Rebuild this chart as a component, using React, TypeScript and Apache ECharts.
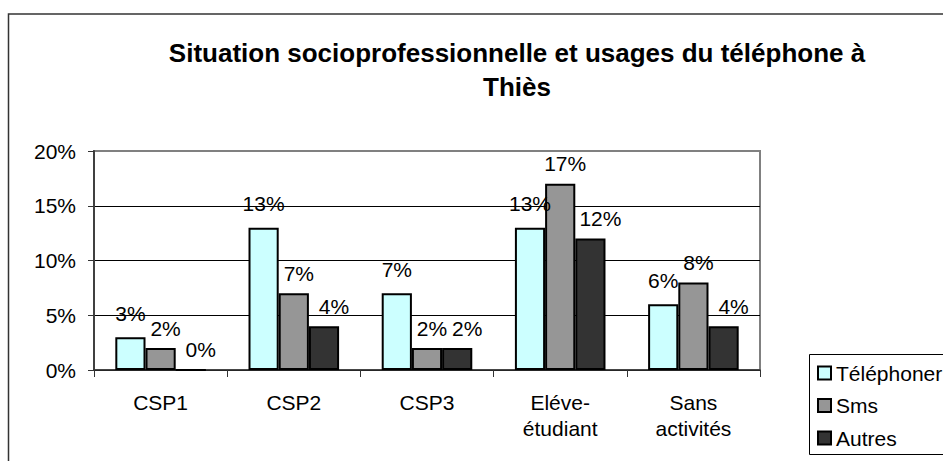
import React, { useEffect, useRef } from "react";
import * as echarts from "echarts";

const categories = ["CSP1", "CSP2", "CSP3", "Eléve-\nétudiant", "Sans\nactivités"];
const telephoner = [3, 13, 7, 13, 6];
const sms = [2, 7, 2, 17, 8];
const autres = [0, 4, 2, 12, 4];
const seriesNames = ["Téléphoner", "Sms", "Autres"];
const titleText = "Situation socioprofessionnelle et usages du téléphone à\nThiès";

const FONT = "'Liberation Sans', Arial, sans-serif";

export default function App() {
  const ref = useRef<HTMLDivElement>(null);
  useEffect(() => {
    if (!ref.current) return;
    const chart = echarts.init(ref.current, undefined, { renderer: "svg" });
    const barBase = (name: string, data: number[], color: string, offset: number[]) => ({
      name,
      type: "bar",
      data,
      barGap: "0%",
      barCategoryGap: "32%",
      itemStyle: { color, borderColor: "#000", borderWidth: 2 },
      label: {
        show: true,
        position: "top",
        distance: 5,
        offset,
        formatter: "{c}%",
        fontSize: 21,
        fontFamily: FONT,
        color: "#000",
      },
    });
    chart.setOption({
      animation: false,
      backgroundColor: "#fff",
      textStyle: { fontFamily: FONT },
      graphic: [
        {
          type: "rect",
          shape: { x: 8.5, y: 14, width: 1000, height: 1000 },
          style: { fill: "none", stroke: "#333", lineWidth: 1.5 },
          silent: true,
        },
        {
          type: "rect",
          shape: { x: 809.5, y: 354.5, width: 200, height: 100 },
          style: { fill: "none", stroke: "#000", lineWidth: 1 },
          silent: true,
        },
        {
          type: "text",
          x: 517,
          y: 36,
          style: {
            text: titleText,
            font: `bold 26px ${FONT}`,
            fill: "#000",
            textAlign: "center",
            textVerticalAlign: "top",
            lineHeight: 34,
          },
        },
      ],
      legend: {
        orient: "vertical",
        left: 809,
        top: 354,
        data: seriesNames,
        icon: "rect",
        itemWidth: 13,
        itemHeight: 13,
        itemGap: 11.5,
        padding: [8.5, 0, 6.5, 8],
        textStyle: { fontSize: 21, color: "#000", fontFamily: FONT, lineHeight: 21 },
      },
      grid: {
        left: 94,
        top: 151,
        right: 183,
        bottom: 91,
        show: true,
        borderColor: "#808080",
        borderWidth: 2,
        backgroundColor: "transparent",
      },
      xAxis: {
        type: "category",
        data: categories,
        axisLine: { lineStyle: { color: "#333", width: 1.5 } },
        axisTick: { show: true, length: 7, lineStyle: { color: "#333" } },
        axisLabel: { fontSize: 21, color: "#000", margin: 19, lineHeight: 26, fontFamily: FONT },
      },
      yAxis: {
        type: "value",
        min: 0,
        max: 20,
        interval: 5,
        axisLine: { show: true, lineStyle: { color: "#404040", width: 2 } },
        axisTick: { show: true, length: 6, lineStyle: { color: "#333" } },
        axisLabel: { formatter: "{value}%", fontSize: 21, color: "#000", margin: 18, fontFamily: FONT },
        splitLine: { lineStyle: { color: ["#000", "#000", "#000", "#000", "#808080"], width: 1 } },
      },
      series: [
        barBase(seriesNames[0], telephoner, "#CCFFFF", [0, -8.5]),
        barBase(seriesNames[1], sms, "#969696", [5, -4.5]),
        barBase(seriesNames[2], autres, "#333333", [10, -4.5]),
      ],
    });
    return () => chart.dispose();
  }, []);
  return (
    <div
      ref={ref}
      style={{ position: "fixed", left: 0, top: 0, width: 943, height: 461 }}
    />
  );
}
